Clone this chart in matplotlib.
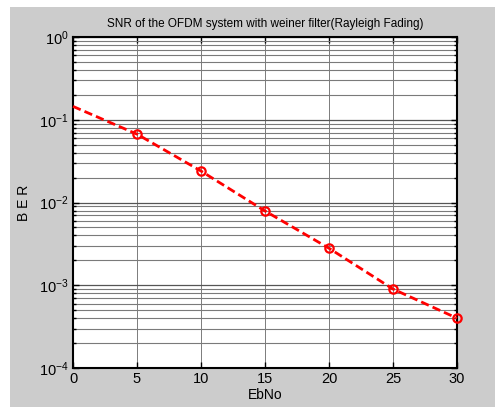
import matplotlib
matplotlib.use('Agg')
import matplotlib.pyplot as plt
from matplotlib.patches import Rectangle
from matplotlib.ticker import LogLocator, FixedLocator

plt.rcParams['font.family'] = ['Liberation Sans', 'DejaVu Sans']
plt.rcParams['mathtext.fontset'] = 'custom'
plt.rcParams['mathtext.rm'] = 'Liberation Sans'
plt.rcParams['mathtext.it'] = 'Liberation Sans'

# valores
ebno = [0, 5, 10, 15, 20, 25, 30]
ber = [0.145, 0.067, 0.024, 0.0079, 0.0028, 0.0009, 0.0004]
xticks = [0, 5, 10, 15, 20, 25, 30]

fig = plt.figure(figsize=(4.95, 4.07), dpi=100, facecolor='white')
fig.patches.append(Rectangle((10 / 495, 0), 1, 1 - 7 / 407, transform=fig.transFigure,
                             facecolor='#cccccc', edgecolor='none', zorder=-10))

ax = fig.add_axes([73 / 495, 1 - 368 / 407, (457 - 73) / 495, (368 - 37) / 407])
ax.set_facecolor('white')

ax.plot(ebno, ber, color='red', linestyle='--', linewidth=2, dashes=(3, 1.5),
        marker='o', markevery=slice(1, None), markersize=6,
        markerfacecolor='none', markeredgecolor='red', markeredgewidth=1.6,
        clip_on=False, zorder=5)

ax.set_yscale('log')
ax.set_xlim(0, 30)
ax.set_ylim(1e-4, 1)
ax.xaxis.set_major_locator(FixedLocator(xticks))
ax.yaxis.set_major_locator(LogLocator(base=10, numticks=10))
ax.yaxis.set_minor_locator(LogLocator(base=10, subs=range(2, 10), numticks=10))

ax.grid(True, which='major', axis='x', color='#666666', linewidth=0.6, linestyle='-')
ax.grid(True, which='major', axis='y', color='#555555', linewidth=0.9, linestyle='-')
ax.grid(True, which='minor', axis='y', color='#7a7a7a', linewidth=0.8, linestyle='-')

ax.tick_params(which='both', direction='in', top=True, right=True, labelsize=10.5,
               colors='black', pad=3)
ax.tick_params(which='major', length=4, width=1)
ax.tick_params(which='minor', length=2.5, width=1)
for s in ax.spines.values():
    s.set_linewidth(1.5)

ax.set_title('SNR of the OFDM system with weiner filter(Rayleigh Fading)', fontsize=8.5, pad=7)
ax.set_xlabel('EbNo', fontsize=10, labelpad=1)
ax.set_ylabel('B E R', fontsize=10, labelpad=6)

fig.savefig('out.png', dpi=100, facecolor=fig.get_facecolor())
